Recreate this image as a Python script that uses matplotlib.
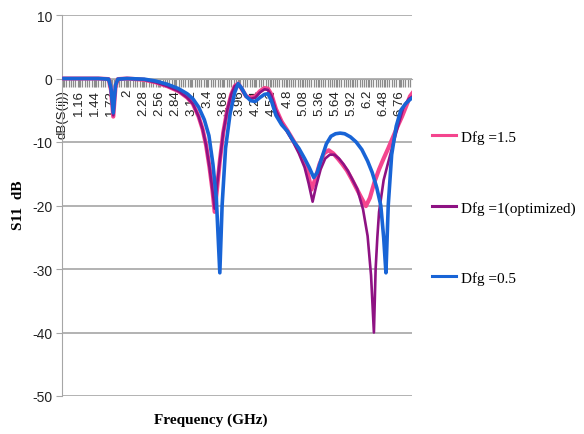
import numpy as np
import matplotlib.pyplot as plt
from matplotlib.lines import Line2D

plt.rcParams['axes.unicode_minus'] = False

# Dfg = 1.5 (pink)
f_15 = [0.90, 1.20, 1.50, 1.68, 1.72, 1.76, 1.80, 1.84, 2.00, 2.30, 2.50, 2.70, 2.90, 3.05,
        3.15, 3.25, 3.32, 3.38, 3.44, 3.49, 3.53, 3.57, 3.62, 3.68, 3.75, 3.82, 3.88, 3.94,
        4.00, 4.08, 4.16, 4.24, 4.32, 4.40, 4.46, 4.52, 4.60, 4.70, 4.80, 4.90, 5.00, 5.10,
        5.16, 5.22, 5.28, 5.36, 5.44, 5.52, 5.60, 5.68, 5.76, 5.84, 5.92, 6.00, 6.08, 6.17,
        6.24, 6.32, 6.40, 6.48, 6.56, 6.64, 6.72, 6.80, 6.88, 6.94, 6.99]
s_15 = [0, 0, 0, -0.1, -1.8, -6.0, -1.2, -0.1, 0, -0.2, -0.6, -1.2, -2.0, -3.0,
        -4.0, -6.0, -8.0, -10.5, -14, -17.5, -21, -17.5, -13, -8.5, -5, -2.5, -1.2, -0.8,
        -1.6, -2.8, -3.0, -2.8, -2.0, -1.5, -1.6, -2.5, -4.8, -6.8, -8.2, -9.7, -11.3, -13.2,
        -15, -17.5, -16, -13.5, -11.8, -11.3, -11.8, -12.6, -13.5, -14.5, -15.8, -17.2, -18.6, -20.1,
        -18.8, -16.3, -14.3, -12.6, -11, -9.3, -7.6, -6.0, -4.2, -2.8, -2.2]

# Dfg = 1 (optimized, purple)
f_1 = [0.90, 1.20, 1.50, 1.68, 1.72, 1.76, 1.80, 1.84, 2.00, 2.30, 2.50, 2.70, 2.90, 3.05,
       3.15, 3.25, 3.32, 3.38, 3.44, 3.49, 3.53, 3.57, 3.62, 3.68, 3.75, 3.82, 3.88, 3.94,
       4.00, 4.08, 4.16, 4.24, 4.32, 4.40, 4.46, 4.52, 4.60, 4.70, 4.80, 4.90, 5.00, 5.10,
       5.17, 5.24, 5.30, 5.38, 5.46, 5.54, 5.62, 5.70, 5.78, 5.86, 5.94, 6.02, 6.12, 6.20,
       6.26, 6.31, 6.34, 6.37, 6.40, 6.48, 6.56, 6.64, 6.73, 6.83, 6.92, 6.99]
s_1 = [0, 0, 0, -0.1, -1.8, -5.8, -1.2, -0.1, 0, -0.2, -0.6, -1.2, -2.0, -3.0,
       -4.0, -6.0, -8.0, -10.5, -14, -17.5, -20.5, -17, -13, -8.5, -5, -2.5, -1.2, -0.9,
       -1.7, -2.9, -3.2, -3.0, -2.2, -1.7, -1.8, -2.7, -5.0, -7.0, -8.5, -10.0, -11.8, -14.0,
       -16.5, -19.4, -17.0, -14.3, -12.6, -12.0, -12.0, -12.6, -13.5, -14.6, -16.0, -17.4, -20.6, -24.8,
       -31, -40, -30, -25, -21, -16, -13.2, -10.5, -7.5, -4.4, -3.2, -2.8]

# Dfg = 0.5 (blue)
f_05 = [0.90, 1.20, 1.50, 1.68, 1.72, 1.76, 1.80, 1.84, 2.00, 2.30, 2.50, 2.70, 2.90, 3.05,
        3.15, 3.25, 3.35, 3.43, 3.50, 3.56, 3.62, 3.66, 3.72, 3.80, 3.88, 3.94, 4.00, 4.08,
        4.16, 4.24, 4.32, 4.40, 4.46, 4.52, 4.60, 4.70, 4.80, 4.90, 5.00, 5.10, 5.18, 5.26,
        5.32, 5.40, 5.48, 5.56, 5.64, 5.72, 5.80, 5.90, 6.00, 6.10, 6.20, 6.28, 6.36, 6.43,
        6.48, 6.52, 6.56, 6.62, 6.70, 6.78, 6.86, 6.94, 6.99]
s_05 = [0, 0, 0, -0.1, -1.5, -5.4, -1.0, -0.1, 0, -0.1, -0.4, -0.9, -1.6, -2.4,
        -3.2, -4.5, -6.5, -9, -13.5, -19, -30.6, -20, -11, -5.5, -2.2, -0.8, -1.5, -2.8,
        -3.5, -3.6, -3.0, -2.5, -2.4, -3.5, -5.8, -7.3, -8.3, -9.8, -11.0, -12.6, -14, -15.6,
        -14.8, -12.5, -10.3, -9.1, -8.7, -8.6, -8.7, -9.2, -10.0, -11.2, -13.0, -14.8, -17.2, -20,
        -25, -30.6, -20, -12, -7.5, -5, -4, -3.3, -3]

tick_pos = [0.88 + 0.28 * k for k in range(22)]
tick_txt = ['dB(S(ij))', '1.16', '1.44', '1.72', '2', '2.28', '2.56', '2.84', '3.12', '3.4',
            '3.68', '3.96', '4.24', '4.52', '4.8', '5.08', '5.36', '5.64', '5.92', '6.2',
            '6.48', '6.76']

names = ['Dfg =1.5', 'Dfg =1(optimized)', 'Dfg =0.5']
colors = ['#F4458E', '#8E1283', '#1864D6']

fig = plt.figure(figsize=(5.84, 4.35), dpi=100)
ax = fig.add_axes([62/584, 1-397/435, 350/584, 381/435])

ax.plot(f_15, s_15, color=colors[0], lw=3.0, solid_joinstyle='round', zorder=3)
ax.plot(f_1, s_1, color=colors[1], lw=1.9, solid_joinstyle='round', zorder=4)
ax.plot(f_05, s_05, color=colors[2], lw=2.6, solid_joinstyle='round', zorder=5)

ax.set_xlim(0.865, 6.975)
ax.set_ylim(-50, 10)
ax.set_yticks(np.arange(-50, 11, 10))
ax.yaxis.grid(True, color='#A6A6A6', lw=1.2)
ax.set_axisbelow(True)

for s in ['top', 'right']:
    ax.spines[s].set_visible(False)
ax.spines['left'].set_color('#A6A6A6')
ax.spines['bottom'].set_position(('data', 0))
ax.spines['bottom'].set_color('#A6A6A6')

ax.set_xticks(tick_pos)
ax.set_xticklabels(tick_txt, rotation=90, fontsize=9.5, family='Liberation Sans', color='#222222')
ax.set_xticks(np.arange(0.90, 6.98, 0.04), minor=True)
ax.tick_params(axis='x', which='both', direction='out', length=6, width=0.9, color='#8C8C8C', pad=1.5)
ax.tick_params(axis='y', direction='out', length=4, color='#A6A6A6', labelsize=10, pad=3)
for t in ax.get_yticklabels():
    t.set_family('Liberation Sans')
    t.set_color('#222222')

fig.text(18/584, 1-205/435, 'S11  dB', rotation=90, ha='center', va='center',
         family='Liberation Serif', fontweight='bold', fontsize=11)
fig.text(211/584, 1-420/435, 'Frequency (GHz)', ha='center', va='center',
         family='Liberation Serif', fontweight='bold', fontsize=11)

leg_y = [136, 207, 277]
for name, c, y in zip(names, colors, leg_y):
    fig.add_artist(Line2D([432/584, 456/584], [1-y/435, 1-y/435], color=c, lw=2.2))
    fig.text(461/584, 1-(y+2)/435, name, ha='left', va='center',
             family='Liberation Serif', fontsize=11)

fig.savefig('out.png', dpi=100)
